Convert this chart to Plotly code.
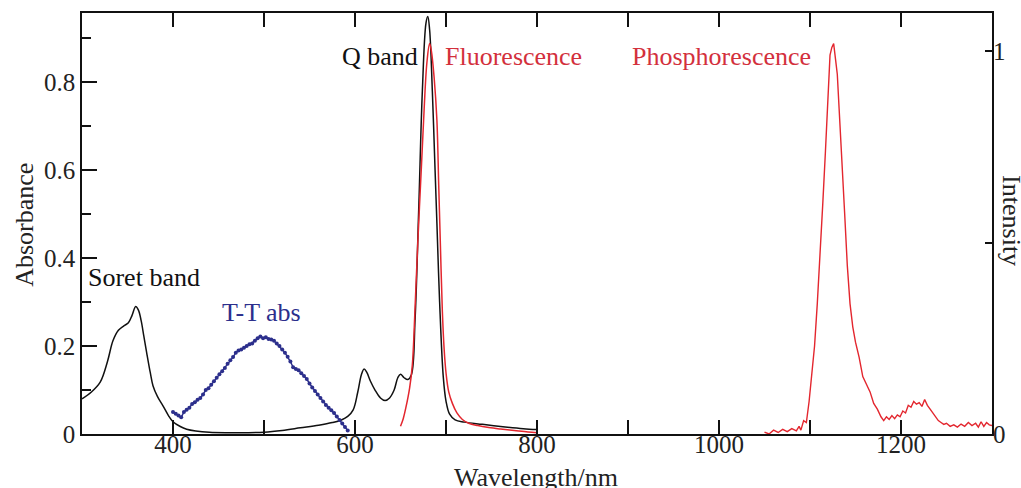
import plotly.graph_objects as go

# ---- data ----
abs_wl = [300, 310, 320, 328, 334, 340, 346, 351, 355, 359, 362, 365, 368, 371, 375, 378, 383, 389, 395, 400,
          408, 415, 425, 440, 460, 480, 500, 520, 540, 560, 575, 585, 592, 598, 603, 607, 610, 613, 617, 622,
          628, 633, 638, 643, 647, 650, 654, 658, 662, 666, 670, 674, 678, 680, 682, 685, 688, 690, 693, 697,
          700, 704, 710, 720, 740, 765, 785, 800]
abs_val = [0.080, 0.095, 0.118, 0.165, 0.212, 0.236, 0.246, 0.253, 0.270, 0.290, 0.282, 0.258, 0.222, 0.186, 0.140,
           0.110, 0.085, 0.064, 0.042, 0.028, 0.017, 0.011, 0.007, 0.004, 0.003, 0.003, 0.004, 0.008, 0.014, 0.020,
           0.026, 0.032, 0.040, 0.055, 0.095, 0.135, 0.148, 0.140, 0.120, 0.100, 0.082, 0.076, 0.082, 0.100, 0.128,
           0.136, 0.128, 0.124, 0.135, 0.260, 0.510, 0.780, 0.935, 0.950, 0.920, 0.780, 0.600, 0.480, 0.300, 0.130,
           0.075, 0.045, 0.032, 0.027, 0.022, 0.016, 0.012, 0.010]

tt_wl = [400, 403, 406, 409, 412, 415, 418, 421, 424, 427, 430, 433, 436, 439, 442, 445, 448, 451, 454, 457,
         460, 463, 466, 469, 472, 475, 478, 481, 484, 487, 490, 493, 496, 499, 502, 505, 508, 511, 514, 517,
         520, 523, 526, 529, 532, 535, 538, 541, 544, 547, 550, 553, 556, 559, 562, 565, 568, 571, 574, 577,
         580, 583, 586, 589, 592]
tt_val = [0.050, 0.046, 0.042, 0.038, 0.050, 0.055, 0.060, 0.068, 0.072, 0.078, 0.082, 0.090, 0.100, 0.104, 0.112,
          0.120, 0.128, 0.136, 0.143, 0.150, 0.160, 0.168, 0.175, 0.185, 0.190, 0.192, 0.196, 0.200, 0.204, 0.206,
          0.212, 0.218, 0.222, 0.218, 0.220, 0.216, 0.215, 0.212, 0.206, 0.200, 0.192, 0.185, 0.176, 0.165, 0.152,
          0.148, 0.145, 0.138, 0.132, 0.125, 0.115, 0.106, 0.098, 0.090, 0.082, 0.074, 0.066, 0.060, 0.054, 0.048,
          0.040, 0.032, 0.024, 0.016, 0.008]

fl_wl = [650, 653, 656, 660, 663, 666, 669, 673, 676, 679, 682, 684, 687, 690, 692, 694, 696, 698, 700, 703,
         707, 712, 718, 725, 735, 747, 760, 775, 790, 800]
fl_val = [0.02, 0.04, 0.07, 0.12, 0.18, 0.33, 0.50, 0.70, 0.85, 0.97, 1.02, 1.00, 0.93, 0.82, 0.65, 0.48, 0.32,
          0.22, 0.16, 0.11, 0.08, 0.055, 0.038, 0.028, 0.022, 0.017, 0.013, 0.009, 0.005, 0.003]

ph_wl = [1050, 1055, 1060, 1065, 1070, 1075, 1080, 1085, 1088, 1090, 1093, 1096, 1099, 1102, 1105, 1108, 1111,
         1114, 1117, 1120, 1122, 1124, 1126, 1128, 1130, 1132, 1135, 1138, 1141, 1144, 1147, 1150, 1154, 1158,
         1162, 1166, 1170, 1174, 1178, 1181, 1184, 1187, 1190, 1193, 1196, 1199, 1202, 1205, 1208, 1211, 1214,
         1217, 1220, 1223, 1226, 1229, 1232, 1235, 1238, 1241, 1244, 1247, 1250, 1254, 1258, 1262, 1266, 1270,
         1274, 1278, 1282, 1285, 1288, 1291, 1294, 1297, 1300]
ph_val = [0.005, 0.000, 0.010, 0.004, 0.012, 0.006, 0.014, 0.008, 0.020, 0.010, 0.035, 0.030, 0.085, 0.150, 0.230,
          0.340, 0.460, 0.600, 0.740, 0.900, 0.990, 1.010, 1.020, 0.980, 0.940, 0.850, 0.730, 0.580, 0.440, 0.340,
          0.280, 0.240, 0.200, 0.150, 0.130, 0.110, 0.080, 0.065, 0.045, 0.035, 0.045, 0.038, 0.048, 0.040, 0.050,
          0.045, 0.060, 0.055, 0.075, 0.070, 0.085, 0.078, 0.082, 0.072, 0.090, 0.075, 0.065, 0.055, 0.045, 0.035,
          0.030, 0.025, 0.028, 0.020, 0.024, 0.018, 0.026, 0.020, 0.030, 0.022, 0.028, 0.018, 0.032, 0.020, 0.030,
          0.024, 0.022]

x_ticks = [400, 600, 800, 1000, 1200]
y_ticks = [0, 0.2, 0.4, 0.6, 0.8]
y2_ticks = [0, 0.5, 1]
y2_labels = ["0", "", "1"]

BLACK = "#111111"
RED = "#e3262e"
RED_TXT = "#d3303c"
NAVY = "#2c2f8c"
FONT = "Liberation Serif"

fig = go.Figure()
fig.add_trace(go.Scatter(x=abs_wl, y=abs_val, mode="lines", line=dict(color=BLACK, width=1.5),
                         line_shape="spline", showlegend=False))
fig.add_trace(go.Scatter(x=tt_wl, y=tt_val, mode="lines+markers", line=dict(color=NAVY, width=1.5),
                         marker=dict(color=NAVY, size=4), showlegend=False))
fig.add_trace(go.Scatter(x=fl_wl, y=fl_val, mode="lines", line=dict(color=RED, width=1.5),
                         line_shape="spline", yaxis="y2", showlegend=False))
fig.add_trace(go.Scatter(x=ph_wl, y=ph_val, mode="lines", line=dict(color=RED, width=1.4),
                         yaxis="y2", showlegend=False))

axis_font = dict(family=FONT, size=25, color="#222222")

fig.update_layout(
    width=1021, height=488,
    margin=dict(l=82, r=29, t=13, b=54),
    paper_bgcolor="white", plot_bgcolor="white",
    font=axis_font,
    xaxis=dict(range=[300, 1300], tickvals=x_ticks, ticks="inside", ticklen=14, tickwidth=1.5,
               tickcolor=BLACK, showline=True, linecolor=BLACK, linewidth=1.5, mirror="allticks",
               showgrid=False, zeroline=False, tickfont=axis_font, ticklabelstandoff=-13,
               minor=dict(ticks="inside", ticklen=8, tickwidth=1.5, tickcolor=BLACK, dtick=100, tick0=300,
                          showgrid=False)),
    yaxis=dict(range=[0, 0.958], tickvals=y_ticks, ticks="inside", ticklen=15, tickwidth=1.5,
               tickcolor=BLACK, showline=True, linecolor=BLACK, linewidth=1.5, mirror=True,
               showgrid=False, zeroline=False, tickfont=axis_font,
               minor=dict(ticks="inside", ticklen=9, tickwidth=1.5, tickcolor=BLACK, dtick=0.1, tick0=0,
                          showgrid=False)),
    yaxis2=dict(range=[0, 1.1], overlaying="y", side="right", tickvals=y2_ticks, ticktext=y2_labels,
                ticks="inside", ticklen=7, tickwidth=1.5, tickcolor=BLACK, showline=False,
                showgrid=False, zeroline=False, tickfont=axis_font),
)

ann_font = dict(family=FONT, size=26)
annotations = [
    dict(text="Soret band", x=304, y=0.357, xref="x", yref="y", xanchor="left", yanchor="middle",
         font=dict(ann_font, color=BLACK)),
    dict(text="T-T abs", x=497, y=0.277, xref="x", yref="y", xanchor="center", yanchor="middle",
         font=dict(ann_font, color=NAVY)),
    dict(text="Q band", x=671, y=0.859, xref="x", yref="y", xanchor="right", yanchor="middle",
         font=dict(ann_font, color=BLACK)),
    dict(text="Fluorescence", x=697, y=0.859, xref="x", yref="y", xanchor="left", yanchor="middle",
         font=dict(ann_font, color=RED_TXT)),
    dict(text="Phosphorescence", x=902, y=0.859, xref="x", yref="y", xanchor="left", yanchor="middle",
         font=dict(ann_font, color=RED_TXT)),
    dict(text="Wavelength/nm", x=0.499, y=-0.104, xref="paper", yref="paper", xanchor="center",
         yanchor="middle", font=dict(ann_font, color="#222222")),
    dict(text="Absorbance", x=-0.063, y=0.496, xref="paper", yref="paper", xanchor="center",
         yanchor="middle", textangle=-90, font=dict(ann_font, color="#222222")),
    dict(text="Intensity", x=1.022, y=0.508, xref="paper", yref="paper", xanchor="center",
         yanchor="middle", textangle=90, font=dict(ann_font, color="#222222")),
]
for a in annotations:
    a["showarrow"] = False
fig.update_layout(annotations=annotations)

fig.write_html("out.html")
